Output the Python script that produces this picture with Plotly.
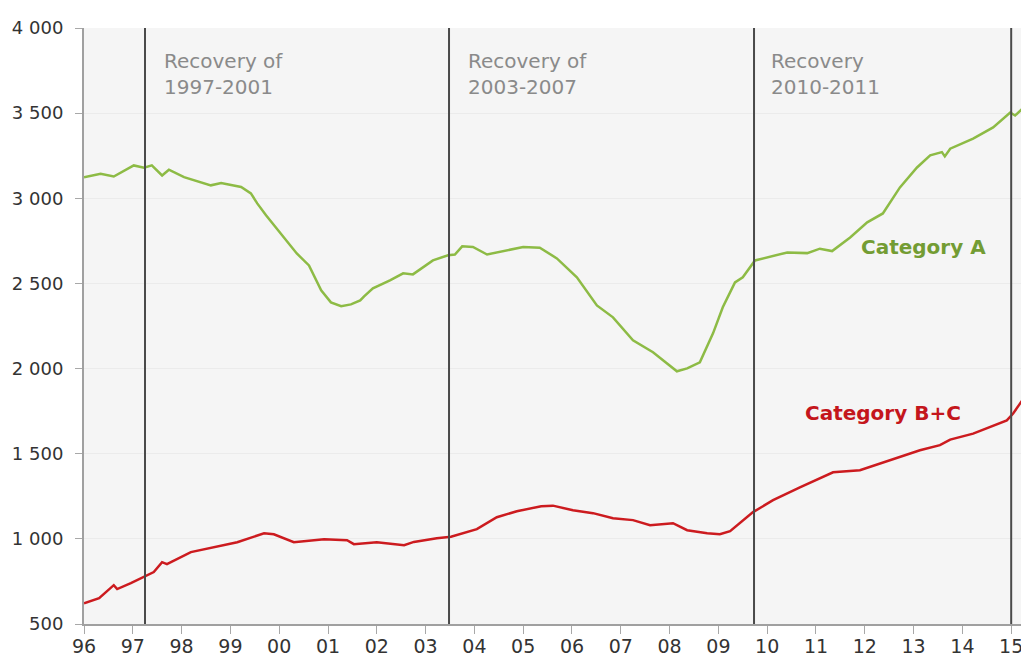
import plotly.graph_objects as go

# Category A (decimal year, value)
a_year = [1996.00, 1996.34, 1996.61, 1997.02, 1997.23, 1997.39, 1997.60, 1997.74, 1998.05, 1998.60,
          1998.81, 1999.22, 1999.42, 1999.55, 1999.73, 2000.10, 2000.36, 2000.61, 2000.86, 2001.06,
          2001.27, 2001.47, 2001.66, 2001.74, 2001.92, 2002.27, 2002.54, 2002.74, 2003.15, 2003.46,
          2003.60, 2003.75, 2003.97, 2004.26, 2004.67, 2005.00, 2005.34, 2005.69, 2006.10, 2006.51,
          2006.84, 2007.25, 2007.66, 2008.15, 2008.36, 2008.62, 2008.89, 2009.09, 2009.34, 2009.50,
          2009.75, 2010.00, 2010.41, 2010.82, 2011.08, 2011.33, 2011.70, 2012.05, 2012.37, 2012.72,
          2013.07, 2013.34, 2013.58, 2013.64, 2013.75, 2014.22, 2014.63, 2014.98, 2015.08, 2015.37]
a_val = [3124, 3144, 3128, 3193, 3180, 3193, 3134, 3168, 3124, 3076,
         3089, 3066, 3029, 2970, 2900, 2770, 2676, 2606, 2459, 2389,
         2366, 2377, 2400, 2424, 2471, 2518, 2559, 2553, 2635, 2665,
         2670, 2718, 2714, 2670, 2694, 2714, 2710, 2647, 2536, 2371,
         2301, 2166, 2096, 1984, 2001, 2037, 2207, 2360, 2506, 2536,
         2635, 2653, 2682, 2678, 2704, 2690, 2770, 2859, 2911, 3064,
         3181, 3252, 3271, 3246, 3291, 3351, 3416, 3504, 3486, 3563]

# Category B+C (decimal year, value)
bc_year = [1996.00, 1996.31, 1996.61, 1996.68, 1996.96, 1997.23, 1997.43, 1997.60, 1997.70, 1998.19,
           1998.73, 1999.14, 1999.69, 1999.89, 2000.30, 2000.92, 2001.39, 2001.53, 2002.00, 2002.56,
           2002.76, 2003.23, 2003.52, 2004.05, 2004.46, 2004.87, 2005.37, 2005.61, 2006.02, 2006.43,
           2006.84, 2007.25, 2007.60, 2008.07, 2008.36, 2008.77, 2009.03, 2009.24, 2009.71, 2010.12,
           2010.67, 2011.35, 2011.90, 2012.52, 2013.13, 2013.54, 2013.75, 2014.22, 2014.91, 2015.04,
           2015.37]
bc_val = [622, 652, 728, 705, 740, 775, 805, 863, 851, 922,
          957, 980, 1033, 1027, 980, 998, 992, 969, 980, 963,
          982, 1004, 1012, 1057, 1127, 1162, 1192, 1195, 1168, 1151,
          1121, 1110, 1080, 1092, 1051, 1033, 1027, 1045, 1157, 1227,
          1303, 1391, 1403, 1462, 1520, 1550, 1583, 1618, 1696, 1736,
          1873]

tick_years = list(range(1996, 2016))
tick_labels = [f"{y % 100:02d}" for y in tick_years]
y_ticks = [500, 1000, 1500, 2000, 2500, 3000, 3500, 4000]

recovery_lines = [1997.25, 2003.48, 2009.73, 2015.0]
recovery_text = ["Recovery of<br>1997-2001", "Recovery of<br>2003-2007", "Recovery<br>2010-2011"]
recovery_text_x = [1997.60, 2003.83, 2010.04]

GREEN = "#8dbb45"
RED = "#cc1b1f"
FONT = "DejaVu Sans"

fig = go.Figure()
fig.add_trace(go.Scatter(x=a_year, y=a_val, mode="lines", line=dict(color=GREEN, width=2.5),
                         name="Category A", showlegend=False))
fig.add_trace(go.Scatter(x=bc_year, y=bc_val, mode="lines", line=dict(color=RED, width=2.5),
                         name="Category B+C", showlegend=False))

for xv in recovery_lines:
    fig.add_shape(type="line", x0=xv, x1=xv, y0=0, y1=1, xref="x", yref="paper",
                  line=dict(color="#4a4a4a", width=2))

for t, xv in zip(recovery_text, recovery_text_x):
    fig.add_annotation(x=xv, y=3891, xref="x", yref="y", text=t, showarrow=False,
                       xanchor="left", yanchor="top", align="left",
                       font=dict(family=FONT, size=20, color="#8a8a8a"))

fig.add_annotation(x=2011.88, y=2712, xref="x", yref="y", text="<b>Category A</b>",
                   showarrow=False, xanchor="left", yanchor="middle",
                   font=dict(family=FONT, size=20, color="#739c33"))
fig.add_annotation(x=2010.74, y=1742, xref="x", yref="y", text="<b>Category B+C</b>",
                   showarrow=False, xanchor="left", yanchor="middle",
                   font=dict(family=FONT, size=20, color="#c4161c"))

# The page body has an 8px default margin, so the figure is sized to fill the window from there.
fig.update_layout(
    width=1021, height=647,
    margin=dict(l=76, r=0, t=20, b=31),
    paper_bgcolor="white", plot_bgcolor="#f5f5f5",
    separators=". ",
    font=dict(family=FONT, size=18, color="#333333"),
)
fig.update_xaxes(range=[1996, 2015.365], tickvals=tick_years, ticktext=tick_labels,
                 automargin=False,
                 showgrid=False, zeroline=False, showline=True, linecolor="#a0a0a0", linewidth=2,
                 ticks="outside", ticklen=8, tickcolor="#a8a8a8", tickwidth=1,
                 ticklabelstandoff=-4,
                 tickfont=dict(family=FONT, size=19, color="#333333"))
fig.update_yaxes(range=[500, 4000], tickvals=y_ticks, tickformat=",d",
                 automargin=False,
                 showgrid=True, gridcolor="#ebebeb", gridwidth=1, zeroline=False,
                 showline=True, linecolor="#a0a0a0", linewidth=2,
                 ticks="outside", ticklen=7, tickcolor="#a8a8a8", tickwidth=1,
                 ticklabelstandoff=8,
                 tickfont=dict(family=FONT, size=18, color="#333333"))

fig.write_html("out.html")
